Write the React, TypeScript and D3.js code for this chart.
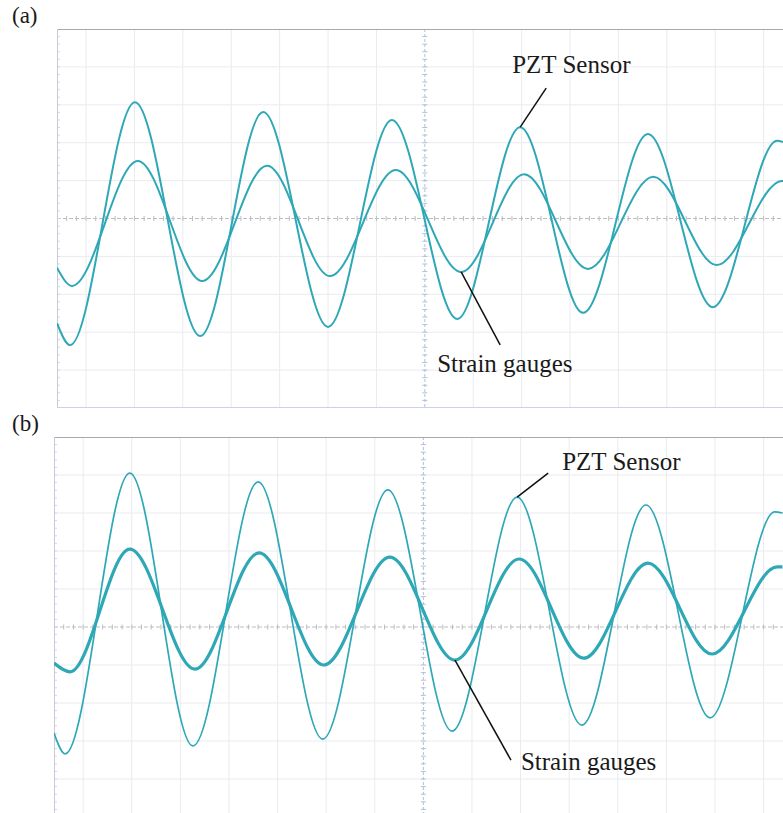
import React from "react";
import * as d3 from "d3";

// ---------- data (oscilloscope divisions: time t, amplitude v) ----------
const pztA_t = [-7.6, -7.33, -5.99, -4.64, -3.34, -2.0, -0.68, 0.67, 1.97, 3.27, 4.61, 5.95, 7.28, 7.4];
const pztA_v = [-2.76, -3.34, 3.07, -3.1, 2.81, -2.86, 2.6, -2.65, 2.41, -2.49, 2.23, -2.34, 2.05, 2.02];
const sgA_t = [-7.6, -7.29, -5.93, -4.6, -3.26, -1.96, -0.6, 0.75, 2.05, 3.37, 4.72, 6.03, 7.38, 7.4];
const sgA_v = [-1.3, -1.78, 1.52, -1.65, 1.39, -1.52, 1.28, -1.41, 1.17, -1.33, 1.1, -1.23, 0.99, 0.99];

const pztB_t = [-7.6, -7.37, -6.04, -4.74, -3.4, -2.07, -0.73, 0.59, 1.93, 3.26, 4.58, 5.9, 7.23, 7.39];
const pztB_v = [-2.79, -3.34, 4.05, -3.13, 3.82, -2.95, 3.61, -2.74, 3.42, -2.58, 3.21, -2.39, 3.03, 3.0];
const sgB_t = [-7.6, -7.27, -6.04, -4.7, -3.38, -2.05, -0.69, 0.65, 1.97, 3.3, 4.62, 5.94, 7.28, 7.39];
const sgB_v = [-0.95, -1.18, 2.05, -1.11, 1.95, -1.0, 1.84, -0.87, 1.79, -0.82, 1.68, -0.71, 1.58, 1.58];

const xDomain = [-7.6, 7.4];
const yDomain = [-5, 5];
const gridX = d3.range(-7, 8);
const gridY = d3.range(-4, 5);
const minorTicks = d3.range(-38, 38).map((i) => i / 5);

const panelLabels = ["(a)", "(b)"];
const pztLabel = "PZT Sensor";
const sgLabel = "Strain gauges";

const TRACE = "#2ea8b6";
const FONT = "'Liberation Serif', 'Times New Roman', serif";

type Pt = [number, number];
const zip = (t: number[], v: number[]): Pt[] => t.map((x, i) => [x, v[i]]);

interface PanelProps {
  left: number;
  right: number;
  top: number;
  bottom: number;
  id: string;
  pzt: Pt[];
  sg: Pt[];
  pztW: number;
  sgW: number;
  showBottom: boolean;
  pztAnchor: number;
  sgAnchor: number;
  pztLine: [number, number];
  pztText: [number, number];
  sgLine: [number, number];
  sgText: [number, number];
}

function Panel(p: PanelProps) {
  const x = d3.scaleLinear().domain(xDomain).range([p.left, p.right]);
  const y = d3.scaleLinear().domain(yDomain).range([p.bottom, p.top]);
  const line = d3
    .line<Pt>()
    .x((d) => x(d[0]))
    .y((d) => y(d[1]))
    .curve(d3.curveMonotoneX);
  const cx = x(0);
  const cy = y(0);
  const pa = p.pzt[p.pztAnchor];
  const sa = p.sg[p.sgAnchor];
  return (
    <g>
      <defs>
        <clipPath id={p.id}>
          <rect x={p.left} y={p.top} width={p.right - p.left} height={p.bottom - p.top} />
        </clipPath>
      </defs>
      <rect x={p.left} y={p.top} width={p.right - p.left} height={p.bottom - p.top} fill="#fff" />
      {gridX
        .filter((g) => g !== 0)
        .map((g) => (
          <line key={"gx" + g} x1={x(g)} x2={x(g)} y1={p.top} y2={p.bottom} stroke="#eaebf0" strokeWidth={1} />
        ))}
      {gridY
        .filter((g) => g !== 0)
        .map((g) => (
          <line key={"gy" + g} x1={p.left} x2={p.right} y1={y(g)} y2={y(g)} stroke="#eaebf0" strokeWidth={1} />
        ))}
      <line x1={p.left} x2={p.right} y1={cy} y2={cy} stroke="#bdbdc2" strokeWidth={1} strokeDasharray="4,2" />
      <line x1={cx} x2={cx} y1={p.top} y2={p.bottom} stroke="#b4bfdc" strokeWidth={1} strokeDasharray="3,2" />
      {minorTicks
        .filter((t) => t > xDomain[0] && t < xDomain[1])
        .map((t, i) => (
          <line key={"mx" + i} x1={x(t)} x2={x(t)} y1={cy - 2.5} y2={cy + 2.5} stroke="#bdbdc2" strokeWidth={1} />
        ))}
      {minorTicks
        .filter((t) => t > yDomain[0] && t < yDomain[1])
        .map((t, i) => (
          <g key={"my" + i}>
            <line x1={cx - 2.5} x2={cx + 2.5} y1={y(t)} y2={y(t)} stroke="#b4bfdc" strokeWidth={1} />
            <line x1={p.left} x2={p.left + 3} y1={y(t)} y2={y(t)} stroke="#d4d8e4" strokeWidth={1} />
          </g>
        ))}
      <line x1={p.left} x2={p.right} y1={p.top + 0.5} y2={p.top + 0.5} stroke="#a9a9ad" strokeWidth={1} />
      <line x1={p.left + 0.5} x2={p.left + 0.5} y1={p.top} y2={p.bottom} stroke="#c7cbd8" strokeWidth={1} />
      {p.showBottom && (
        <line x1={p.left} x2={p.right} y1={p.bottom - 0.5} y2={p.bottom - 0.5} stroke="#c9d2e6" strokeWidth={1} />
      )}
      <g clipPath={`url(#${p.id})`}>
        <path d={line(p.sg) || ""} fill="none" stroke={TRACE} strokeWidth={p.sgW} />
        <path d={line(p.pzt) || ""} fill="none" stroke={TRACE} strokeWidth={p.pztW} />
      </g>
      <line
        x1={x(pa[0])}
        y1={y(pa[1])}
        x2={x(pa[0]) + p.pztLine[0]}
        y2={y(pa[1]) + p.pztLine[1]}
        stroke="#111"
        strokeWidth={1.5}
      />
      <text x={x(pa[0]) + p.pztText[0]} y={y(pa[1]) + p.pztText[1]} fontFamily={FONT} fontSize={25} fill="#1a1a1a">
        {pztLabel}
      </text>
      <line
        x1={x(sa[0])}
        y1={y(sa[1])}
        x2={x(sa[0]) + p.sgLine[0]}
        y2={y(sa[1]) + p.sgLine[1]}
        stroke="#111"
        strokeWidth={1.5}
      />
      <text x={x(sa[0]) + p.sgText[0]} y={y(sa[1]) + p.sgText[1]} fontFamily={FONT} fontSize={25} fill="#1a1a1a">
        {sgLabel}
      </text>
    </g>
  );
}

export default function App() {
  return (
    <svg
      width={783}
      height={813}
      style={{ position: "absolute", left: 0, top: 0, background: "#fff" }}
      xmlns="http://www.w3.org/2000/svg"
    >
      <rect width={783} height={813} fill="#fff" />
      <text x={12} y={23} fontFamily={FONT} fontSize={23} fill="#1a1a1a">
        {panelLabels[0]}
      </text>
      <text x={12} y={431} fontFamily={FONT} fontSize={23} fill="#1a1a1a">
        {panelLabels[1]}
      </text>
      <Panel
        id="clipA"
        left={57}
        right={783}
        top={29}
        bottom={408}
        pzt={zip(pztA_t, pztA_v)}
        sg={zip(sgA_t, sgA_v)}
        pztW={2}
        sgW={2}
        showBottom={true}
        pztAnchor={8}
        sgAnchor={7}
        pztLine={[26, -39]}
        pztText={[-8, -54]}
        sgLine={[39, 73]}
        sgText={[-24, 100]}
      />
      <Panel
        id="clipB"
        left={54}
        right={783}
        top={437}
        bottom={817}
        pzt={zip(pztB_t, pztB_v)}
        sg={zip(sgB_t, sgB_v)}
        pztW={1.7}
        sgW={3.2}
        showBottom={false}
        pztAnchor={8}
        sgAnchor={7}
        pztLine={[31, -24]}
        pztText={[45, -27]}
        sgLine={[56, 100]}
        sgText={[66, 110]}
      />
    </svg>
  );
}
